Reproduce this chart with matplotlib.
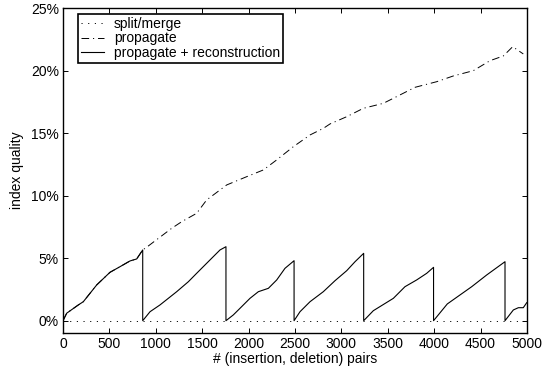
import matplotlib
matplotlib.use("Agg")
import matplotlib.pyplot as plt
from matplotlib.ticker import FuncFormatter

plt.rcParams['font.family'] = ['Liberation Sans', 'DejaVu Sans']
plt.rcParams['lines.scale_dashes'] = False

# split/merge: constant zero
split_x = [0, 5000]
split_y = [0.0, 0.0]

# propagate (percent)
prop_x = [0, 40, 165, 219, 363, 506, 614, 722, 794, 859, 909, 1171, 1279, 1440, 1548,
          1764, 1979, 2159, 2302, 2482, 2662, 2806, 2877, 3057, 3236, 3452, 3631, 3793,
          4027, 4206, 4421, 4601, 4745, 4846, 4960]
prop_y = [0.0, 0.6, 1.26, 1.52, 2.86, 3.87, 4.32, 4.78, 4.94, 5.66, 5.92, 7.39, 7.92, 8.59, 9.66,
          10.86, 11.52, 12.06, 12.86, 13.92, 14.86, 15.39, 15.74, 16.32, 16.99, 17.39, 18.06, 18.67,
          19.12, 19.58, 20.0, 20.8, 21.18, 21.92, 21.34]

# propagate + reconstruction (percent)
rec_x = [0, 40, 165, 219, 363, 506, 614, 722, 794, 859,
         859, 938, 1045, 1225, 1351, 1440, 1584, 1692, 1756,
         1756, 1835, 1907, 2015, 2105, 2213, 2303, 2392, 2490,
         2490, 2554, 2662, 2805, 2931, 3057, 3147, 3240,
         3240, 3344, 3560, 3685, 3811, 3919, 3993,
         3993, 4141, 4242, 4404, 4566, 4763,
         4763, 4853, 4907, 4960, 4997]
rec_y = [0.0, 0.6, 1.26, 1.52, 2.86, 3.87, 4.32, 4.78, 4.94, 5.66,
         0.0, 0.72, 1.26, 2.32, 3.12, 3.79, 4.86, 5.66, 5.92,
         0.0, 0.46, 0.99, 1.79, 2.32, 2.59, 3.26, 4.19, 4.8,
         0.0, 0.72, 1.52, 2.32, 3.2, 4.0, 4.72, 5.39,
         0.0, 0.8, 1.79, 2.72, 3.26, 3.79, 4.27,
         0.0, 1.34, 1.87, 2.72, 3.66, 4.72,
         0.0, 0.86, 1.04, 1.04, 1.44]

labels = ['split/merge', 'propagate', 'propagate + reconstruction']
x_ticks = list(range(0, 5001, 500))
y_ticks = [0, 5, 10, 15, 20, 25]

fig = plt.figure(figsize=(5.43, 3.73), dpi=100)
ax = fig.add_axes([63/543, (373-332.7)/373, 464/543, 324.5/373])

ax.plot(split_x, split_y, color='black', lw=0.7, linestyle=(0, (0.8, 4.0)), label=labels[0])
ax.plot(prop_x, prop_y, color='black', lw=0.7, linestyle=(0, (5.5, 2.8, 0.8, 2.8)), label=labels[1])
ax.plot(rec_x, rec_y, color='black', lw=0.8, linestyle='-', label=labels[2])

ax.set_xlim(0, 5000)
ax.set_ylim(-0.96, 25)
ax.set_xticks(x_ticks)
ax.set_yticks(y_ticks)
ax.yaxis.set_major_formatter(FuncFormatter(lambda v, p: f"{int(v)}%"))
ax.tick_params(direction='in', length=3.5, width=0.7, top=True, right=True, labelsize=10, pad=3)
for s in ax.spines.values():
    s.set_linewidth(1.0)

ax.set_xlabel('# (insertion, deletion) pairs', fontsize=10, labelpad=1)
ax.set_ylabel('index quality', fontsize=10, labelpad=5)

leg = ax.legend(loc='upper left', bbox_to_anchor=(15/464, 1 - 5.8/324.5), borderaxespad=0,
                fancybox=False, edgecolor='black', framealpha=1, fontsize=10,
                handlelength=1.7, handletextpad=0.7, labelspacing=0.05, borderpad=0.2)
leg.get_frame().set_linewidth(1.2)

fig.savefig('out.png', dpi=100)
